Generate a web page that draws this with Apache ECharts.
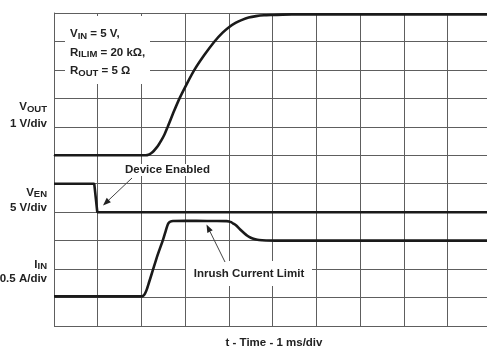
<!DOCTYPE html>
<html>
<head>
<meta charset="utf-8">
<script src="https://cdn.jsdelivr.net/npm/echarts@6/dist/echarts.min.js"></script>
<style>html,body{margin:0;padding:0;background:#fff}#c{width:487px;height:348px}</style>
</head>
<body>
<div id="c"></div>
<script>
// ---- Data (time in ms, 1 ms/div) ----
const voutTime = [0, 2.1, 2.16, 2.22, 2.28, 2.34, 2.4, 2.46, 2.52, 2.6, 2.73, 2.87, 3.04, 3.21, 3.44, 3.67, 3.85, 4.0, 4.15, 4.3, 4.45, 4.62, 4.8, 5.0, 5.44, 9.9];
const voutVolts = [0, 0, 0.02, 0.07, 0.15, 0.26, 0.39, 0.54, 0.71, 1.0, 1.5, 2.0, 2.52, 3.0, 3.53, 4.0, 4.3, 4.5, 4.65, 4.76, 4.84, 4.89, 4.92, 4.93, 4.95, 4.95];

const venTime = [0, 0.92, 0.99, 9.9];
const venVolts = [5, 5, 0, 0];

const iinTime = [0, 2.0, 2.04, 2.08, 2.12, 2.17, 2.26, 2.37, 2.49, 2.55, 2.59, 2.62, 2.66, 2.72, 3.0, 3.5, 3.95, 4.0, 4.05, 4.1, 4.16, 4.25, 4.35, 4.42, 4.5, 4.6, 4.69, 4.85, 5.07, 9.9];
const iinAmps = [0.02, 0.02, 0.03, 0.07, 0.14, 0.26, 0.48, 0.75, 1.01, 1.16, 1.26, 1.31, 1.335, 1.345, 1.35, 1.345, 1.343, 1.337, 1.325, 1.30, 1.27, 1.2, 1.13, 1.085, 1.05, 1.025, 1.01, 1.002, 1.0, 1.0];

// scope settings: axis ranges (11 vertical divisions)
const voutRange = [-6, 5];     // 1 V/div, zero at div 6
const venRange = [-20, 35];    // 5 V/div, zero at div 4
const iinRange = [-0.5, 5];    // 0.5 A/div, zero at div 1
const timeRange = [0, 9.9];

const xTitle = 't - Time - 1 ms/div';
const noteLines = ['{m|V}{s|IN}{m| = 5 V,}', '{m|R}{s|ILIM}{m| = 20 k\u03A9,}', '{m|R}{s|OUT}{m| = 5 \u03A9}'];

// ---- Chart ----
const FONT = '"Liberation Sans", Arial, Helvetica, sans-serif';
const TXT = '#222';
const rich = {
  m: {fontSize: 11.5, fontWeight: 'bold', fontFamily: FONT, fill: TXT, lineHeight: 14, verticalAlign: 'middle'},
  s: {fontSize: 9.5, fontWeight: 'bold', fontFamily: FONT, fill: TXT, lineHeight: 9.5, verticalAlign: 'bottom'}
};
function txt(text, x, y, align, z) {
  return {type: 'text', z: z || 5, style: {text: text, x: x, y: y, align: align, verticalAlign: 'middle', rich: rich,
    fontSize: 11.5, fontWeight: 'bold', fontFamily: FONT, fill: TXT}};
}
function rect(x, y, w, h) {
  return {type: 'rect', z: 1, shape: {x: x, y: y, width: w, height: h}, style: {fill: '#fff'}};
}
function arrow(x1, y1, x2, y2) {
  const dx = x2 - x1, dy = y2 - y1, L = Math.sqrt(dx*dx + dy*dy);
  const ux = dx / L, uy = dy / L, hl = 8, hw = 3;
  const bx = x2 - ux*hl, by = y2 - uy*hl;
  return [
    {type: 'line', z: 5, shape: {x1: x1, y1: y1, x2: bx, y2: by}, style: {stroke: '#444', lineWidth: 1}},
    {type: 'polygon', z: 5, shape: {points: [[x2, y2], [bx - uy*hw, by + ux*hw], [bx + uy*hw, by - ux*hw]]}, style: {fill: '#222'}}
  ];
}
const pair = (t, v) => t.map((x, i) => [x, v[i]]);
const traceStyle = {color: '#1a1a1a', width: 2.6};
const gridLine = {color: '#5e5e5e', width: 1};

const chart = echarts.init(document.getElementById('c'), null, {renderer: 'canvas'});
chart.setOption({
  animation: false,
  backgroundColor: '#fff',
  grid: {left: 54, top: 13, right: -2, bottom: 22, containLabel: false},
  xAxis: {type: 'value', min: timeRange[0], max: timeRange[1], interval: 1,
    axisLine: {show: true, lineStyle: gridLine}, axisTick: {show: false}, axisLabel: {show: false},
    splitLine: {show: true, lineStyle: gridLine}},
  yAxis: [
    {type: 'value', min: voutRange[0], max: voutRange[1], interval: 1,
      axisLine: {show: true, lineStyle: gridLine}, axisTick: {show: false}, axisLabel: {show: false},
      splitLine: {show: true, lineStyle: gridLine}},
    {type: 'value', min: venRange[0], max: venRange[1], show: false, splitLine: {show: false}},
    {type: 'value', min: iinRange[0], max: iinRange[1], show: false, splitLine: {show: false}}
  ],
  series: [
    {name: 'VOUT', type: 'line', yAxisIndex: 0, data: pair(voutTime, voutVolts), showSymbol: false, smooth: 0.2, lineStyle: traceStyle, z: 3},
    {name: 'VEN', type: 'line', yAxisIndex: 1, data: pair(venTime, venVolts), showSymbol: false, lineStyle: traceStyle, z: 3},
    {name: 'IIN', type: 'line', yAxisIndex: 2, data: pair(iinTime, iinAmps), showSymbol: false, smooth: 0.2, lineStyle: traceStyle, z: 3}
  ],
  graphic: [
    rect(65, 16, 85, 68),
    rect(121, 164, 94, 12),
    rect(186, 261, 126, 25),
    txt(noteLines[0], 70, 34, 'left'),
    txt(noteLines[1], 70, 52.5, 'left'),
    txt(noteLines[2], 70, 71, 'left'),
    txt('{m|V}{s|OUT}', 47, 107, 'right'),
    txt('{m|1 V/div}', 47, 124, 'right'),
    txt('{m|V}{s|EN}', 47, 192.5, 'right'),
    txt('{m|5 V/div}', 47, 207.5, 'right'),
    txt('{m|I}{s|IN}', 47, 264.5, 'right'),
    txt('{m|0.5 A/div}', 47, 278.5, 'right'),
    txt('{m|Device Enabled}', 167.5, 170, 'center'),
    txt('{m|Inrush Current Limit}', 249, 274, 'center'),
    txt('{m|' + xTitle + '}', 274, 342.5, 'center')
  ].concat(arrow(132, 178, 103, 205.5), arrow(225, 262, 206.5, 224.5))
});
</script>
</body>
</html>
